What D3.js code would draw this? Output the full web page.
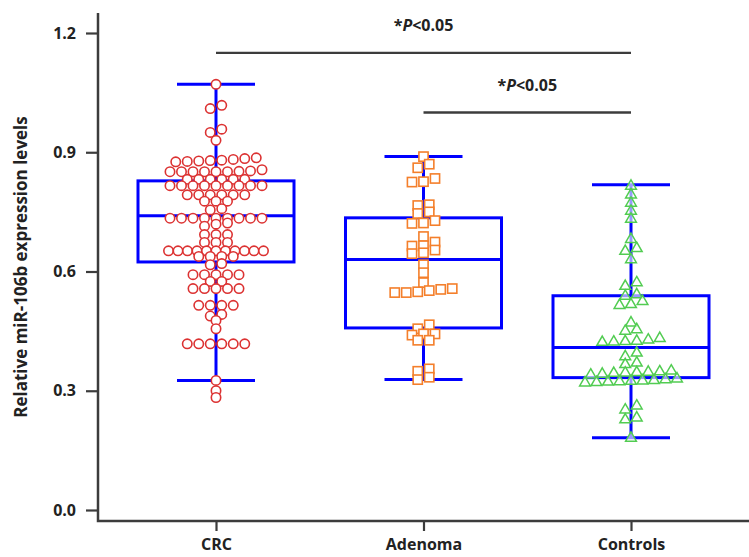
<!DOCTYPE html>
<html>
<head>
<meta charset="utf-8">
<script src="https://cdn.jsdelivr.net/npm/d3@7"></script>
<style>
  body { margin: 0; background: #fff; }
  #chart_container svg { display: block; }
</style>
</head>
<body>
<div id="chart_container"></div>
<script>
// groups and values
const groups = ["CRC", "Adenoma", "Controls"];

const crcValues = [
  1.071, 1.018, 1.010, 0.958, 0.950, 0.930,
  0.886, 0.884, 0.882, 0.880, 0.879, 0.878, 0.877, 0.876,
  0.856, 0.853, 0.852, 0.851, 0.851, 0.851, 0.851, 0.851, 0.851,
  0.832, 0.832, 0.832, 0.832, 0.832, 0.832,
  0.816, 0.816, 0.816, 0.816, 0.816, 0.816, 0.816, 0.816, 0.816,
  0.793, 0.793, 0.793, 0.793, 0.793, 0.793,
  0.777, 0.777, 0.777,
  0.758, 0.755,
  0.734, 0.734, 0.734, 0.734, 0.734, 0.734, 0.734, 0.734, 0.734,
  0.722, 0.719, 0.714,
  0.693, 0.693, 0.693,
  0.673, 0.673, 0.673,
  0.652, 0.652, 0.652, 0.652, 0.652, 0.652, 0.652, 0.652, 0.652, 0.652, 0.652,
  0.638, 0.638, 0.638, 0.638,
  0.620, 0.617,
  0.592, 0.592, 0.592, 0.592, 0.592,
  0.575, 0.575,
  0.557, 0.557, 0.557, 0.557, 0.557,
  0.515, 0.515, 0.515, 0.515,
  0.492, 0.488,
  0.477, 0.456,
  0.418, 0.418, 0.418, 0.418, 0.418, 0.418,
  0.326, 0.300, 0.283
];

const adenomaValues = [
  0.889, 0.870, 0.861,
  0.834, 0.826, 0.825,
  0.768, 0.766, 0.750, 0.746,
  0.728, 0.722, 0.721,
  0.688, 0.674, 0.665, 0.664,
  0.654, 0.647, 0.645,
  0.617, 0.597, 0.572,
  0.557, 0.555, 0.552, 0.549, 0.547, 0.547,
  0.466, 0.456,
  0.443, 0.443, 0.440,
  0.427, 0.427,
  0.355, 0.349, 0.334, 0.328
];

const controlValues = [
  0.815, 0.793, 0.772, 0.752, 0.732,
  0.681, 0.658, 0.651, 0.630,
  0.572, 0.563, 0.542, 0.538,
  0.525, 0.517, 0.515,
  0.471, 0.454, 0.450,
  0.432, 0.428, 0.425, 0.424, 0.423, 0.422,
  0.395, 0.386, 0.370, 0.366,
  0.350, 0.348, 0.347, 0.346, 0.345, 0.344, 0.342, 0.340,
  0.330, 0.328, 0.326, 0.325, 0.324, 0.323, 0.322, 0.321, 0.320,
  0.262, 0.252, 0.232, 0.227, 0.181
];

// box plot stats (per group, same order as groups)
const whiskerLow = [0.326, 0.328, 0.182];
const boxQ1 = [0.624, 0.458, 0.333];
const boxMedian = [0.740, 0.630, 0.409];
const boxQ3 = [0.828, 0.735, 0.539];
const whiskerHigh = [1.071, 0.889, 0.818];

const yTicks = [0, 0.3, 0.6, 0.9, 1.2];
const comparisons = [["CRC", "Controls"], ["Adenoma", "Controls"]];
const compLevels = [1.15, 1.0];   // where the brackets sit on the y scale
const compText = ["*", "P", "<0.05"];

const width = 749, height = 557;
const font = "'Open Sans', 'Noto Sans', sans-serif";

const svg = d3.select("#chart_container")
  .append("svg")
  .attr("width", width)
  .attr("height", height);

const y = d3.scaleLinear().domain([0, 1.2]).range([510, 33]);
const x = d3.scalePoint().domain(groups).range([216, 631]);

const axisColor = "#3c3c3c";
const boxHalf = 78, capHalf = 39;

// y axis
const yAxis = svg.append("g")
  .attr("transform", "translate(98,0)")
  .call(d3.axisLeft(y).tickValues(yTicks).tickFormat(d3.format(".1f")).tickSize(12).tickPadding(10));
yAxis.select(".domain").remove();
yAxis.selectAll(".tick line").attr("stroke", axisColor).attr("stroke-width", 2.2);
yAxis.selectAll(".tick text")
  .style("font-family", font)
  .style("font-weight", "bold")
  .style("font-size", "16px")
  .attr("fill", "#222");

// x axis
const xAxis = svg.append("g")
  .attr("transform", "translate(0,521)")
  .call(d3.axisBottom(x).tickSize(10).tickPadding(8));
xAxis.select(".domain").remove();
xAxis.selectAll(".tick line").attr("stroke", axisColor).attr("stroke-width", 2.2);
xAxis.selectAll(".tick text")
  .style("font-family", font)
  .style("font-weight", "bold")
  .style("font-size", "16px")
  .attr("fill", "#222");

// axis lines (a bit longer than the tick range)
svg.append("path")
  .attr("d", `M98,13 V521 H${width}`)
  .attr("fill", "none")
  .attr("stroke", axisColor)
  .attr("stroke-width", 2.5);

// y label
svg.append("text")
  .attr("transform", `translate(27,${(13 + 521) / 2}) rotate(-90)`)
  .attr("text-anchor", "middle")
  .style("font-family", font)
  .style("font-weight", "bold")
  .style("font-size", "17px")
  .attr("fill", "#222")
  .text("Relative miR-106b expression levels");

// boxes
const boxG = svg.append("g")
  .attr("fill", "none")
  .attr("stroke", "#0000ff")
  .attr("stroke-width", 3);

groups.forEach((g, i) => {
  const cx = x(g);
  boxG.append("rect")
    .attr("x", cx - boxHalf)
    .attr("y", y(boxQ3[i]))
    .attr("width", boxHalf * 2)
    .attr("height", y(boxQ1[i]) - y(boxQ3[i]));
  boxG.append("line")
    .attr("x1", cx - boxHalf).attr("x2", cx + boxHalf)
    .attr("y1", y(boxMedian[i])).attr("y2", y(boxMedian[i]));
  boxG.append("line")
    .attr("x1", cx).attr("x2", cx)
    .attr("y1", y(boxQ3[i])).attr("y2", y(whiskerHigh[i]));
  boxG.append("line")
    .attr("x1", cx).attr("x2", cx)
    .attr("y1", y(boxQ1[i])).attr("y2", y(whiskerLow[i]));
  boxG.append("line")
    .attr("x1", cx - capHalf).attr("x2", cx + capHalf)
    .attr("y1", y(whiskerHigh[i])).attr("y2", y(whiskerHigh[i]));
  boxG.append("line")
    .attr("x1", cx - capHalf).attr("x2", cx + capHalf)
    .attr("y1", y(whiskerLow[i])).attr("y2", y(whiskerLow[i]));
});

// scatter layout: values that sit close together go into one row, spread around the centre
function swarm(values, cx) {
  const sorted = values.slice().sort((a, b) => b - a);
  const bins = [];
  sorted.forEach(v => {
    const last = bins[bins.length - 1];
    if (last && last[0] - v <= 0.0115) last.push(v);
    else bins.push([v]);
  });
  const pts = [];
  bins.forEach(bin => {
    const row = bin.slice().sort((a, b) => a - b);
    const n = row.length;
    const step = n > 1 ? Math.min(11.5, 95 / (n - 1)) : 0;
    row.forEach((v, i) => pts.push({ value: v, x: cx + (i - (n - 1) / 2) * step, y: y(v) }));
  });
  return pts;
}

// CRC circles
svg.append("g").selectAll("circle")
  .data(swarm(crcValues, x("CRC")))
  .enter()
  .append("circle")
  .attr("cx", d => d.x)
  .attr("cy", d => d.y)
  .attr("r", 4.7)
  .attr("fill", "#fff")
  .attr("stroke", "#dc3232")
  .attr("stroke-width", 1.6);

// Adenoma squares
svg.append("g").selectAll("rect")
  .data(swarm(adenomaValues, x("Adenoma")))
  .enter()
  .append("rect")
  .attr("x", d => d.x - 4.6)
  .attr("y", d => d.y - 4.6)
  .attr("width", 9.2)
  .attr("height", 9.2)
  .attr("fill", "#fff")
  .attr("stroke", "#f47f2b")
  .attr("stroke-width", 1.6);

// Controls triangles
const tri = d3.symbol().type(d3.symbolTriangle).size(50);
svg.append("g").selectAll("path")
  .data(swarm(controlValues, x("Controls")))
  .enter()
  .append("path")
  .attr("d", tri)
  .attr("transform", d => `translate(${d.x},${d.y})`)
  .attr("fill", "#fff")
  .attr("fill-opacity", 0.6)
  .attr("stroke", "#52cc52")
  .attr("stroke-width", 1.5);

// significance brackets
comparisons.forEach((pair, i) => {
  const x1 = x(pair[0]), x2 = x(pair[1]);
  const ly = y(compLevels[i]);
  svg.append("line")
    .attr("x1", x1).attr("x2", x2)
    .attr("y1", ly).attr("y2", ly)
    .attr("stroke", axisColor)
    .attr("stroke-width", 2.3);
  const t = svg.append("text")
    .attr("x", (x1 + x2) / 2)
    .attr("y", ly - 22)
    .attr("text-anchor", "middle")
    .style("font-family", font)
    .style("font-weight", "bold")
    .style("font-size", "16px")
    .attr("fill", "#222");
  t.append("tspan").text(compText[0]);
  t.append("tspan").style("font-style", "italic").text(compText[1]);
  t.append("tspan").text(compText[2]);
});
</script>
</body>
</html>
